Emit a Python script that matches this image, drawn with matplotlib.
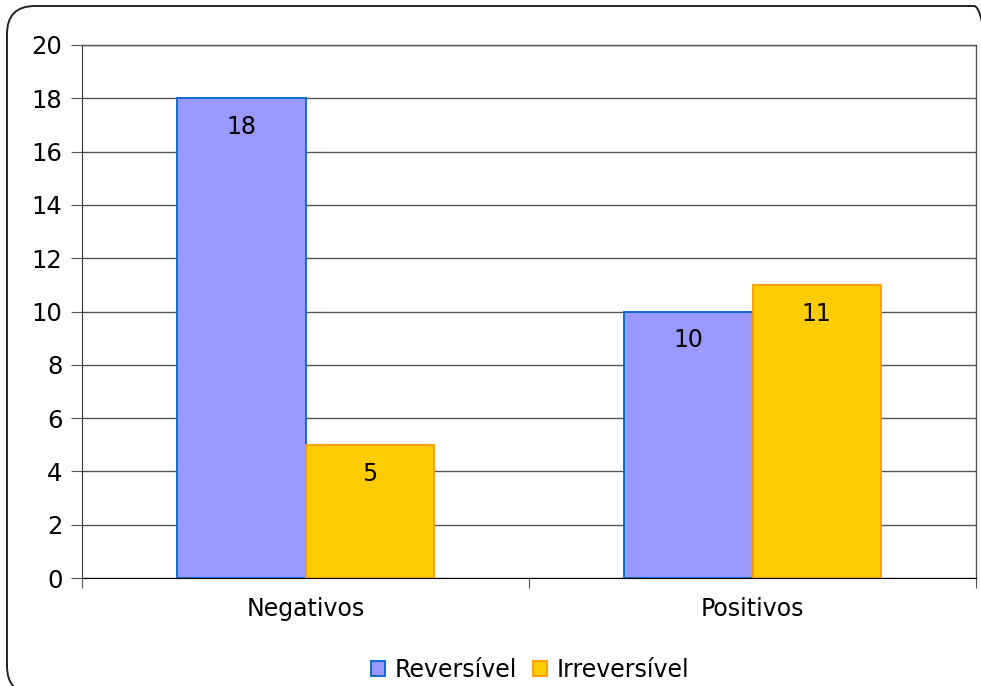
import matplotlib
matplotlib.use("Agg")
import matplotlib.pyplot as plt
import numpy as np
from matplotlib.patches import FancyBboxPatch
from matplotlib.transforms import IdentityTransform

categorias = ["Negativos", "Positivos"]
reversivel = [18, 10]
irreversivel = [5, 11]
series = ["Reversível", "Irreversível"]

plt.rcParams['font.family'] = ['DejaVu Sans']

fig = plt.figure(figsize=(9.81, 6.86), dpi=100)
ax = fig.add_axes([82/981, 1-578/686, (976-82)/981, (578-45)/686])

x = np.arange(len(categorias))
w = 0.287
b1 = ax.bar(x - w/2, reversivel, w, color='#9999FF', edgecolor='#0066CC', linewidth=1.3, label=series[0], zorder=3)
b2 = ax.bar(x + w/2, irreversivel, w, color='#FFCC00', edgecolor='#FF9900', linewidth=1.3, label=series[1], zorder=3)

for bars, vals in [(b1, reversivel), (b2, irreversivel)]:
    for r, v in zip(bars, vals):
        ax.text(r.get_x() + r.get_width()/2, v - 1.08, str(v), ha='center', va='center', fontsize=17, zorder=4)

ax.set_xlim(-0.5, 1.5)
ax.set_ylim(0, 20)
ax.set_yticks(range(0, 21, 2))
ax.yaxis.grid(True, color='#555555', linewidth=1.0, zorder=0)
ax.set_axisbelow(True)

# category boundaries carry the tick marks, names sit in the middle
ax.set_xticks([-0.5, 0.5, 1.5])
ax.set_xticklabels([])
ax.set_xticks(x, minor=True)
ax.set_xticklabels(categorias, minor=True, fontsize=17)
ax.tick_params(axis='x', which='minor', length=0, pad=14)
ax.tick_params(axis='x', which='major', length=7, direction='out', color='#555555')
ax.tick_params(axis='y', length=8, direction='out', labelsize=17.5, pad=6, color='#555555')

for s in ['top', 'right']:
    ax.spines[s].set_color('#555555')
    ax.spines[s].set_linewidth(1.0)
ax.spines['left'].set_color('#333333')
ax.spines['bottom'].set_color('black')

leg = fig.legend(loc='center', bbox_to_anchor=(530/981, 1-670/686), ncol=2, frameon=False,
                 fontsize=17, handlelength=0.6, handleheight=0.6, handletextpad=0.4,
                 columnspacing=0.7)

frame = FancyBboxPatch((7, -8), 995, 688, boxstyle="round,pad=0,rounding_size=28",
                       transform=IdentityTransform(), facecolor='none', edgecolor='#222222',
                       linewidth=1.4)
fig.patches.append(frame)

fig.savefig("out.png", dpi=100)
